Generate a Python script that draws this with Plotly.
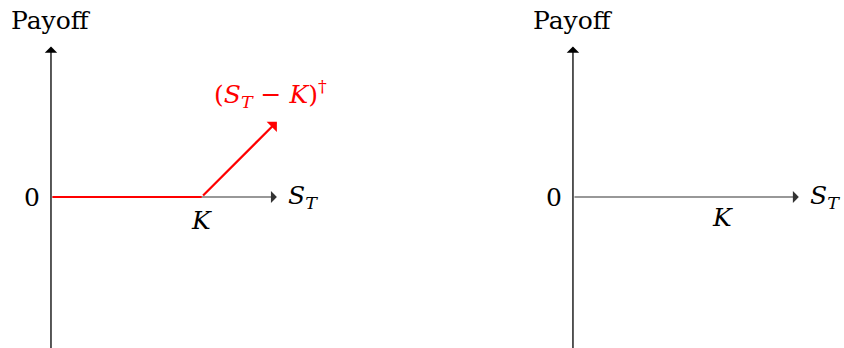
import plotly.graph_objects as go
from plotly.subplots import make_subplots

# Long call payoff: S_T grid, payoff values, strike
s_t = [0, 2, 3]
payoff = [0, 0, 1]
strike = 2
x_end = 3
y_top = 2
y_bottom = -2

RED = "#ff0000"
FONT = "DejaVu Serif"
SIZE = 25

fig = make_subplots(rows=1, cols=2)

ann = []
for xr, yr in [("x", "y"), ("x2", "y2")]:
    # y axis arrow
    ann.append(dict(x=0, y=y_top, ax=0, ay=y_bottom - 0.1, xref=xr, yref=yr,
                    axref=xr, ayref=yr, showarrow=True, arrowhead=1,
                    arrowsize=1.6, arrowwidth=1.3, arrowcolor="black", text=""))
    # x axis arrow
    ann.append(dict(x=x_end, y=0, ax=0, ay=0, xref=xr, yref=yr,
                    axref=xr, ayref=yr, showarrow=True, arrowhead=1,
                    arrowsize=1.8, arrowwidth=1.1, arrowcolor="#333333", text=""))
    ann.append(dict(x=0, y=2.35, xref=xr, yref=yr, text="Payoff", showarrow=False,
                    font=dict(family=FONT, size=SIZE, color="black")))
    ann.append(dict(x=-0.25, y=0, xref=xr, yref=yr, text="0", showarrow=False,
                    font=dict(family=FONT, size=SIZE, color="black")))
    ann.append(dict(x=3.35, y=0, xref=xr, yref=yr,
                    text="<i>S</i><sub><i>T</i></sub>", showarrow=False,
                    font=dict(family=FONT, size=SIZE, color="black")))

ann.append(dict(x=strike, y=-0.31, xref="x", yref="y", text="<i>K</i>",
                showarrow=False, font=dict(family=FONT, size=SIZE, color="black")))
ann.append(dict(x=1.98, y=-0.27, xref="x2", yref="y2", text="<i>K</i>",
                showarrow=False, font=dict(family=FONT, size=SIZE, color="black")))

# red payoff: flat part on top of the axis, rising part with an arrow head
ann.append(dict(x=s_t[1], y=payoff[1], ax=s_t[0], ay=payoff[0], xref="x", yref="y",
                axref="x", ayref="y", showarrow=True, arrowhead=0,
                arrowwidth=2.2, arrowcolor=RED, text=""))
ann.append(dict(x=s_t[2], y=payoff[2], ax=s_t[1], ay=payoff[1], xref="x", yref="y",
                axref="x", ayref="y", showarrow=True, arrowhead=1, arrowsize=1.1,
                arrowwidth=2.2, arrowcolor=RED, text=""))
ann.append(dict(x=2.91, y=1.37, xref="x", yref="y",
                text="(<i>S</i><sub><i>T</i></sub> − <i>K</i>)<sup>†</sup>",
                showarrow=False, font=dict(family=FONT, size=SIZE, color=RED)))

fig.update_layout(
    width=844, height=348, margin=dict(l=0, r=0, t=0, b=0),
    plot_bgcolor="white", paper_bgcolor="white", showlegend=False,
    annotations=ann,
)
ax_style = dict(visible=False, showgrid=False, zeroline=False, fixedrange=True)
fig.update_xaxes(domain=[0, 0.5], range=[-0.677, 4.927], row=1, col=1, **ax_style)
fig.update_xaxes(domain=[0.5, 1], range=[-2.005, 3.6], row=1, col=2, **ax_style)
fig.update_yaxes(domain=[0, 1], range=[-2.005, 2.616], **ax_style)

fig.write_html("out.html", config={"staticPlot": True},
               post_script="document.body.style.margin='0';")
